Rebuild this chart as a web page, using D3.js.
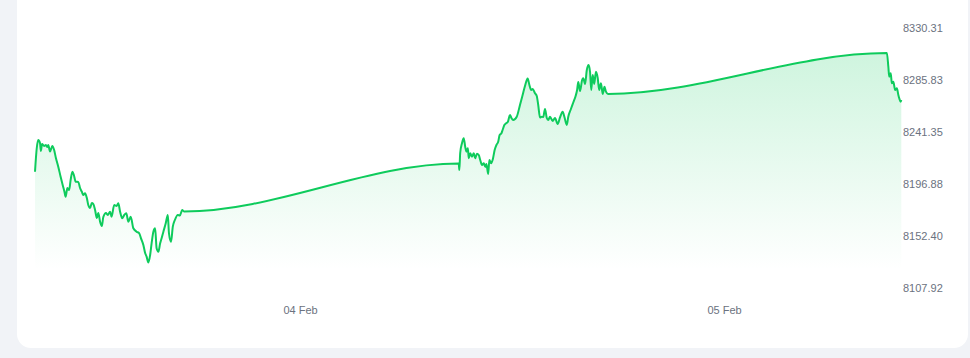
<!DOCTYPE html>
<html>
<head>
<meta charset="utf-8">
<script src="https://cdn.jsdelivr.net/npm/d3@7"></script>
<style>
  html, body { margin: 0; padding: 0; background: #f1f3f7; }
  svg { display: block; }
  text { font-family: "Liberation Sans", Arial, Helvetica, sans-serif; }
</style>
</head>
<body>
<svg id="chart" width="970" height="358"></svg>
<script>
// ---- data (minutes after 03 Feb 09:00, price) ----
const startTime = new Date(2025, 1, 3, 9, 0);
const minutes = [
  0, 6, 11, 17, 20, 24, 31, 37, 42, 45, 51, 59, 65, 71, 79, 87, 94, 100, 104, 110,
  116, 121, 127, 132, 138, 147, 153, 159, 164, 170, 176, 181, 187, 193, 198, 204, 210, 215, 221, 227,
  232, 241, 247, 255, 260, 269, 277, 283, 289, 296, 303, 310, 317, 325, 334, 345, 354, 360, 368, 374,
  379, 385, 391, 396, 402, 408, 413, 419, 425, 430, 436, 444, 451, 455, 462, 468, 475, 485, 492, 500,
  506,
  1439, 1441, 1444, 1450, 1456, 1461, 1465, 1470, 1473, 1478, 1484, 1490, 1495, 1501, 1507, 1512, 1518, 1524, 1529, 1533,
  1539, 1543, 1549, 1555, 1561, 1567, 1573, 1578, 1584, 1588, 1594, 1600, 1606, 1613, 1618, 1624, 1636, 1647, 1656, 1664,
  1673, 1679, 1685, 1690, 1698, 1704, 1709, 1715, 1721, 1726, 1732, 1738, 1743, 1749, 1758, 1766, 1775, 1783, 1792, 1798,
  1806, 1811, 1820, 1828, 1836, 1841, 1845, 1851, 1858, 1862, 1868, 1874, 1880, 1885, 1889, 1894, 1899, 1905, 1911, 1916,
  1922, 1928, 1934, 1939, 1946,
  2893, 2898, 2901, 2906, 2910, 2915, 2921, 2927, 2932, 2935, 2940, 2942
];
const prices = [
  8207.40, 8227.67, 8234.51, 8231.95, 8225.10, 8231.09, 8229.38, 8230.24, 8228.52, 8230.24, 8224.68, 8229.38, 8225.96, 8219.12, 8211.67, 8203.12, 8196.02, 8190.29, 8186.01, 8193.46,
  8191.74, 8200.30, 8207.40, 8204.57, 8198.84, 8198.59, 8193.46, 8190.29, 8187.47, 8188.92, 8184.90, 8178.91, 8176.35, 8180.63, 8179.77, 8174.64, 8167.79, 8172.07, 8164.63, 8160.95,
  8168.65, 8172.07, 8170.36, 8173.18, 8168.91, 8178.91, 8178.06, 8180.37, 8173.18, 8167.54, 8170.36, 8171.82, 8164.63, 8168.91, 8158.99, 8156.08, 8154.71, 8150.43, 8144.70, 8137.86,
  8134.69, 8129.73, 8136.15, 8146.15, 8156.08, 8158.99, 8141.88, 8138.97, 8146.15, 8150.43, 8156.08, 8163.26, 8170.36, 8154.71, 8147.52, 8160.36, 8166.08, 8170.36, 8169.93, 8174.64,
  8173.35,
  8214.41, 8208.85, 8223.39, 8231.69, 8235.97, 8228.78, 8224.51, 8227.41, 8218.86, 8223.14, 8220.23, 8223.14, 8218.86, 8222.71, 8221.68, 8217.40, 8213.13, 8214.58, 8211.67, 8213.98,
  8205.43, 8217.40, 8214.58, 8218.26, 8225.96, 8230.24, 8233.06, 8238.79, 8240.24, 8243.07, 8247.34, 8248.80, 8250.16, 8255.90, 8253.33, 8251.62, 8254.44, 8264.45, 8273.00, 8280.70,
  8287.12, 8281.56, 8277.28, 8278.13, 8274.46, 8272.15, 8264.45, 8253.76, 8254.44, 8254.18, 8261.03, 8253.33, 8251.62, 8254.44, 8250.76, 8253.33, 8248.20, 8253.76, 8258.72, 8254.18,
  8247.34, 8254.44, 8261.03, 8266.59, 8272.15, 8277.28, 8284.12, 8276.42, 8285.83, 8287.29, 8282.41, 8294.39, 8298.66, 8292.68, 8277.28, 8290.11, 8282.41, 8292.93, 8287.54, 8277.28,
  8283.01, 8273.86, 8280.10, 8275.82, 8273.86,
  8308.93, 8297.21, 8288.66, 8291.56, 8283.01, 8284.38, 8277.28, 8278.73, 8273.00, 8270.18, 8267.27, 8268.73
];
const yTickValues = [8330.31, 8285.83, 8241.35, 8196.88, 8152.40, 8107.92];
const xTickDates = [new Date(2025, 1, 4), new Date(2025, 1, 5)];

// ---- build ----
const data = minutes.map((m, i) => ({ t: new Date(startTime.getTime() + m * 60000), v: prices[i] }));

const svg = d3.select("#chart");

// card
svg.append("rect")
  .attr("x", 17).attr("y", -30)
  .attr("width", 951).attr("height", 378)
  .attr("rx", 14).attr("ry", 14)
  .attr("fill", "#ffffff");

const x = d3.scaleTime()
  .domain(d3.extent(data, d => d.t))
  .range([35, 901.3]);

const y = d3.scaleLinear()
  .domain([yTickValues[yTickValues.length - 1], yTickValues[0]])
  .range([288, 28]);

const defs = svg.append("defs");
const grad = defs.append("linearGradient")
  .attr("id", "areaGrad")
  .attr("gradientUnits", "userSpaceOnUse")
  .attr("x1", 0).attr("x2", 0)
  .attr("y1", y(d3.max(prices))).attr("y2", 270);
grad.append("stop").attr("offset", "0%").attr("stop-color", "#0ecb5c").attr("stop-opacity", 0.2);
grad.append("stop").attr("offset", "100%").attr("stop-color", "#0ecb5c").attr("stop-opacity", 0);

const area = d3.area()
  .x(d => x(d.t))
  .y0(270)
  .y1(d => y(d.v))
  .curve(d3.curveMonotoneX);

const line = d3.line()
  .x(d => x(d.t))
  .y(d => y(d.v))
  .curve(d3.curveMonotoneX);

svg.append("path")
  .datum(data)
  .attr("d", area)
  .attr("fill", "url(#areaGrad)");

svg.append("path")
  .datum(data)
  .attr("d", line)
  .attr("fill", "none")
  .attr("stroke", "#0ecb5c")
  .attr("stroke-width", 2)
  .attr("stroke-linejoin", "round");

// y axis (right)
const yAxis = d3.axisRight(y)
  .tickValues(yTickValues)
  .tickFormat(d3.format(".2f"))
  .tickSize(0)
  .tickPadding(2);
const gy = svg.append("g")
  .attr("transform", "translate(901,0)")
  .call(yAxis);
gy.select(".domain").remove();
gy.selectAll("text")
  .attr("fill", "#6b7280")
  .style("font-size", "11px")
  .style("font-family", "'Liberation Sans', Arial, sans-serif");

// x axis (bottom)
const xAxis = d3.axisBottom(x)
  .tickValues(xTickDates)
  .tickFormat(d3.timeFormat("%d %b"))
  .tickSize(0)
  .tickPadding(8);
const gx = svg.append("g")
  .attr("transform", "translate(0,298)")
  .call(xAxis);
gx.select(".domain").remove();
gx.selectAll("text")
  .attr("fill", "#6b7280")
  .style("font-size", "11px")
  .style("font-family", "'Liberation Sans', Arial, sans-serif");
</script>
</body>
</html>
